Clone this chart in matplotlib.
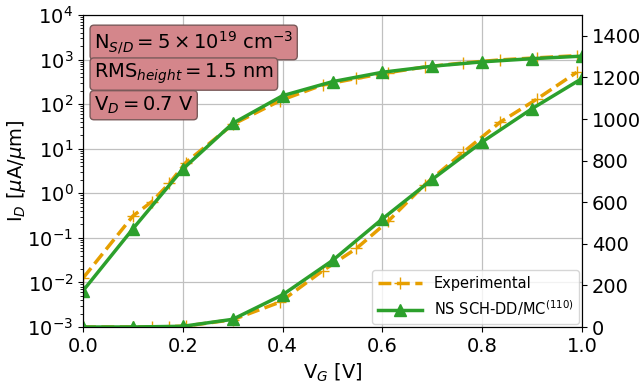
import matplotlib
matplotlib.use("Agg")
import matplotlib.pyplot as plt

# simulation (NS SCH-DD/MC) points
vg_sim = [0.0, 0.1, 0.2, 0.3, 0.4, 0.5, 0.6, 0.7, 0.8, 0.9, 1.0]
id_sim = [0.0065, 0.16, 3.5, 37, 155, 320, 520, 710, 890, 1050, 1195]

# experimental points
vg_exp = [0.0, 0.1, 0.138, 0.173, 0.206, 0.3, 0.395, 0.48, 0.548, 0.612,
          0.685, 0.762, 0.836, 0.909, 0.989]
id_exp = [0.0125, 0.31, 0.65, 1.67, 4.9, 35, 120, 270, 378, 510,
          685, 840, 985, 1095, 1224]

exp_color = '#E69F00'
sim_color = '#2ca02c'

plt.rcParams['font.size'] = 14

fig = plt.figure(figsize=(6.41, 3.85), dpi=100)
ax = fig.add_axes([0.1295, 0.1506, 0.7785, 0.8104])
ax2 = ax.twinx()

# log scale curves
ax.plot(vg_exp, id_exp, '--', marker='+', color=exp_color, lw=2.5, ms=9,
        label='Experimental')
ax.plot(vg_sim, id_sim, '-', marker='^', color=sim_color, lw=2.5, ms=9,
        label='NS SCH-DD/MC$^{(110)}$')
ax.set_yscale('log')
ax.set_ylim(1e-3, 1e4)
ax.set_xlim(0, 1)
ax.set_xticks([0, 0.2, 0.4, 0.6, 0.8, 1.0])
ax.grid(True, which='major', color='#c0c0c0', lw=0.9)
ax.set_xlabel('V$_G$ [V]')
ax.set_ylabel('I$_D$ [$\\mu$A/$\\mu$m]')
ax.yaxis.set_label_coords(-0.11, 0.5)

# linear scale curves
ax2.plot(vg_exp, id_exp, '--', marker='+', color=exp_color, lw=2.5, ms=9)
ax2.plot(vg_sim, id_sim, '-', marker='^', color=sim_color, lw=2.5, ms=9)
ax2.set_ylim(0, 1500)
ax2.set_yticks(range(0, 1401, 200))

ax.legend(loc='lower right', fontsize=10.5, framealpha=0.8,
          handlelength=3, borderaxespad=0.2)

box = dict(boxstyle='round,pad=0.2', facecolor='#d4868b', edgecolor='#7a5a5a')
ax.text(0.022, 0.955, 'N$_{S/D} = 5 \\times 10^{19}$ cm$^{-3}$',
        transform=ax.transAxes, va='top', ha='left', bbox=box)
ax.text(0.022, 0.85, 'RMS$_{height} = 1.5$ nm',
        transform=ax.transAxes, va='top', ha='left', bbox=box)
ax.text(0.022, 0.745, 'V$_D = 0.7$ V',
        transform=ax.transAxes, va='top', ha='left', bbox=box)

fig.savefig('out.png', dpi=100)
